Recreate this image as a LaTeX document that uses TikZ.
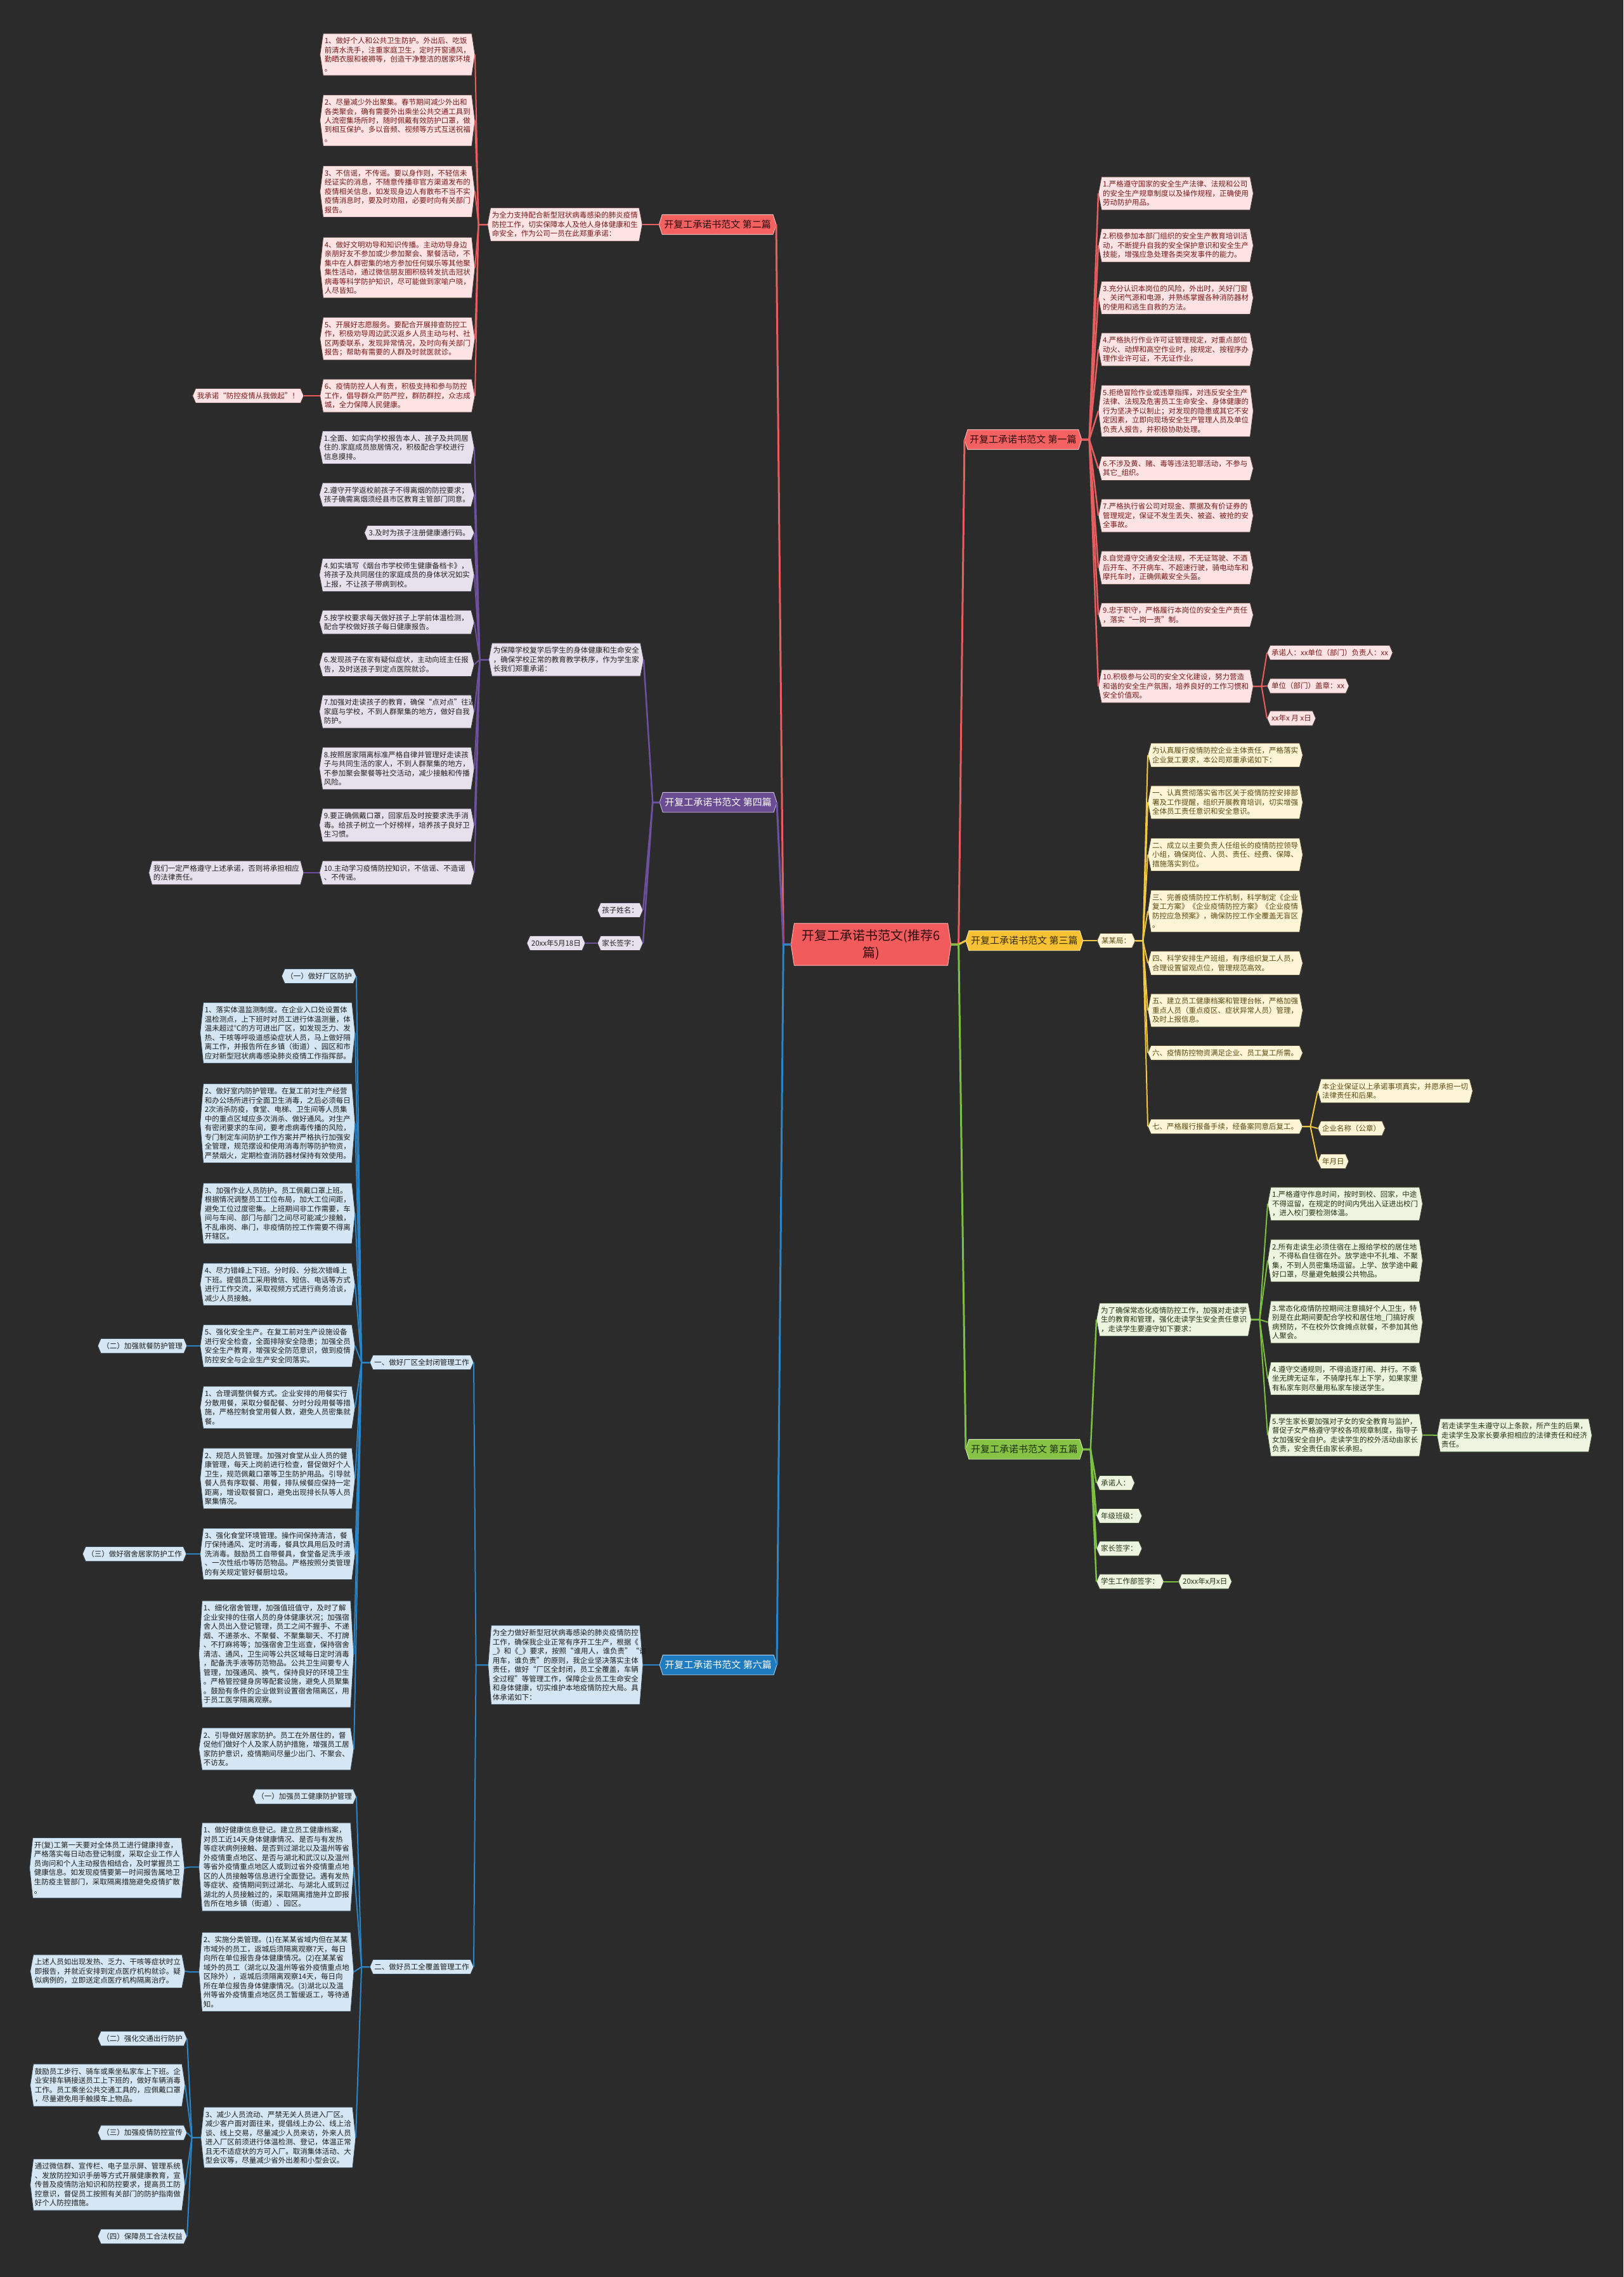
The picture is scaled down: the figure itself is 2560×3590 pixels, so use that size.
\documentclass[tikz,border=0pt]{standalone}
\usepackage{fontspec}
\setmainfont{Noto Sans CJK SC}
\usetikzlibrary{calc}
\pgfdeclarelayer{bg}
\pgfsetlayers{bg,main}
\definecolor{bgc}{HTML}{2B2B2B}
% leaf families
\definecolor{lrfill}{HTML}{FDE3E3}\definecolor{lrtxt}{HTML}{7A1A1A}\definecolor{lrbd}{HTML}{4A3A3A}
\definecolor{lpfill}{HTML}{E6E1EC}\definecolor{lptxt}{HTML}{222222}\definecolor{lpbd}{HTML}{3E3A44}
\definecolor{lbfill}{HTML}{D5E7F4}\definecolor{lbtxt}{HTML}{1E1E1E}\definecolor{lbbd}{HTML}{34404A}
\definecolor{lyfill}{HTML}{FEF5D6}\definecolor{lytxt}{HTML}{5B4A12}\definecolor{lybd}{HTML}{4A4430}
\definecolor{lgfill}{HTML}{EDF5E1}\definecolor{lgtxt}{HTML}{243312}\definecolor{lgbd}{HTML}{3C4632}
% branch families
\definecolor{brfill}{HTML}{F36161}\definecolor{brtxt}{HTML}{2A0A0A}\definecolor{brbd}{HTML}{FFC0C0}
\definecolor{bpfill}{HTML}{6A4C93}\definecolor{bptxt}{HTML}{FFFFFF}\definecolor{bpbd}{HTML}{CDBDE2}
\definecolor{bbfill}{HTML}{1F7BC0}\definecolor{bbtxt}{HTML}{FFFFFF}\definecolor{bbbd}{HTML}{A8D0F0}
\definecolor{byfill}{HTML}{F6C234}\definecolor{bytxt}{HTML}{3A2A00}\definecolor{bybd}{HTML}{FFE9A8}
\definecolor{bgnfill}{HTML}{86C344}\definecolor{bgntxt}{HTML}{1E2E0A}\definecolor{bgnbd}{HTML}{D5F0B5}
\definecolor{ctrfill}{HTML}{F25B5B}\definecolor{ctrtxt}{HTML}{2A0A0A}\definecolor{ctrbd}{HTML}{FFB3B3}
% lines
\definecolor{rline}{HTML}{E85D5D}
\definecolor{pline}{HTML}{6E50A0}
\definecolor{bline}{HTML}{2A84C6}
\definecolor{yline}{HTML}{F2C843}
\definecolor{gline}{HTML}{7CC043}
\tikzset{
 nbase/.style={font=\fontsize{11.5}{14.5}\selectfont, inner xsep=7pt, inner ysep=6pt, align=left},
 lw/.style={nbase, text width=230pt},
 sm/.style={nbase},
 brn/.style={font=\fontsize{15}{18}\selectfont, inner xsep=8pt, inner ysep=8.5pt, align=center},
 cn/.style={font=\fontsize{20}{27}\selectfont, inner xsep=17pt, inner ysep=9pt, align=center},
}
\newcommand\hxn[6][lw]{%
  \node[#1, text=#3txt, anchor=#5] (#2) at (#4) {#6};
  \begin{pgfonlayer}{bg}
    \path[fill=#3fill, draw=#3bd, line width=0.9pt]
      ($(#2.north west)+(5,0)$) -- ($(#2.north east)+(-5,0)$) -- (#2.east) --
      ($(#2.south east)+(-5,0)$) -- ($(#2.south west)+(5,0)$) -- (#2.west) -- cycle;
  \end{pgfonlayer}}
\newcommand\fanL[5][2pt]{\foreach \c in {#4}{\draw[draw=#3, line width=#1] (#2.west) -- ++(-#5,0) -- (\c.east);}}
\newcommand\fanR[5][2pt]{\foreach \c in {#4}{\draw[draw=#3, line width=#1] (#2.east) -- ++(#5,0) -- (\c.west);}}
\begin{document}
\begin{tikzpicture}[x=1pt,y=-1pt]
\begin{pgfonlayer}{bg}
\fill[bgc] (0,0) rectangle (2560,3590);
\end{pgfonlayer}
\useasboundingbox (0,0) rectangle (2560,3590);

% ---------- center ----------
\hxn[cn]{C}{ctr}{1373.5,1489}{center}{开复工承诺书范文(推荐6\\篇)}

% ---------- 第二篇 ----------
\hxn[brn]{B2}{br}{1224,354}{east}{开复工承诺书范文 第二篇}
\hxn{M2}{lr}{1013,354}{east}{为全力支持配合新型冠状病毒感染的肺炎疫情\\防控工作，切实保障本人及他人身体健康和生\\命安全，作为公司一员在此郑重承诺：}
\hxn{L21}{lr}{749,86}{east}{1、做好个人和公共卫生防护。外出后、吃饭\\前清水洗手，注重家庭卫生，定时开窗通风，\\勤晒衣服和被褥等，创造干净整洁的居家环境\\。}
\hxn{L22}{lr}{749,190}{east}{2、尽量减少外出聚集。春节期间减少外出和\\各类聚会，确有需要外出乘坐公共交通工具到\\人流密集场所时，随时佩戴有效防护口罩，做\\到相互保护。多以音频、视频等方式互送祝福\\。}
\hxn{L23}{lr}{749,302}{east}{3、不信谣，不传谣。要以身作则，不轻信未\\经证实的消息，不随意传播非官方渠道发布的\\疫情相关信息，如发现身边人有散布不当不实\\疫情消息时，要及时劝阻，必要时向有关部门\\报告。}
\hxn{L24}{lr}{749,422}{east}{4、做好文明劝导和知识传播。主动劝导身边\\亲朋好友不参加或少参加聚会、聚餐活动，不\\集中在人群密集的地方参加任何娱乐等其他聚\\集性活动，通过微信朋友圈积极转发抗击冠状\\病毒等科学防护知识，尽可能做到家喻户晓，\\人尽皆知。}
\hxn{L25}{lr}{749,534}{east}{5、开展好志愿服务。要配合开展排查防控工\\作，积极劝导周边武汉返乡人员主动与村、社\\区两委联系，发现异常情况，及时向有关部门\\报告；帮助有需要的人群及时就医就诊。}
\hxn{L26}{lr}{749,624}{east}{6、疫情防控人人有责，积极支持和参与防控\\工作，倡导群众严防严控，群防群控，众志成\\城，全力保障人民健康。}
\hxn[sm]{W2}{lr}{479,624}{east}{我承诺“防控疫情从我做起”！}

% ---------- 第四篇 ----------
\hxn[brn]{B4}{bp}{1225,1265}{east}{开复工承诺书范文 第四篇}
\hxn{M4}{lp}{1015,1040}{east}{为保障学校复学后学生的身体健康和生命安全\\，确保学校正常的教育教学秩序，作为学生家\\长我们郑重承诺：}
\hxn{L41}{lp}{748,705.5}{east}{1.全面、如实向学校报告本人、孩子及共同居\\住的.家庭成员旅居情况，积极配合学校进行\\信息摸排。}
\hxn{L42}{lp}{748,780}{east}{2.遵守开学返校前孩子不得离烟的防控要求；\\孩子确需离烟须经县市区教育主管部门同意。}
\hxn[sm]{L43}{lp}{748,840}{east}{3.及时为孩子注册健康通行码。}
\hxn{L44}{lp}{748,906.5}{east}{4.如实填写《烟台市学校师生健康备档卡》，\\将孩子及共同居住的家庭成员的身体状况如实\\上报，不让孩子带病到校。}
\hxn{L45}{lp}{748,981}{east}{5.按学校要求每天做好孩子上学前体温检测，\\配合学校做好孩子每日健康报告。}
\hxn{L46}{lp}{748,1047.5}{east}{6.发现孩子在家有疑似症状，主动向班主任报\\告，及时送孩子到定点医院就诊。}
\hxn{L47}{lp}{748,1122}{east}{7.加强对走读孩子的教育，确保“点对点”往返\\家庭与学校，不到人群聚集的地方，做好自我\\防护。}
\hxn{L48}{lp}{748,1211.5}{east}{8.按照居家隔离标准严格自律并管理好走读孩\\子与共同生活的家人，不到人群聚集的地方，\\不参加聚会聚餐等社交活动，减少接触和传播\\风险。}
\hxn{L49}{lp}{748,1301}{east}{9.要正确佩戴口罩，回家后及时按要求洗手消\\毒。给孩子树立一个好榜样，培养孩子良好卫\\生习惯。}
\hxn{L410}{lp}{748,1376}{east}{10.主动学习疫情防控知识，不信谣、不造谣\\、不传谣。}
\hxn{W4}{lp}{479,1376}{east}{我们一定严格遵守上述承诺，否则将承担相应\\的法律责任。}
\hxn[sm]{K4}{lp}{1014,1435}{east}{孩子姓名：}
\hxn[sm]{S4}{lp}{1014,1487}{east}{家长签字：}
\hxn[sm]{D4}{lp}{923,1487}{east}{20xx年5月18日}

% ---------- 第六篇 ----------
\hxn[brn]{B6}{bb}{1225,2625}{east}{开复工承诺书范文 第六篇}
\hxn{M6}{lb}{1014,2625}{east}{为全力做好新型冠状病毒感染的肺炎疫情防控\\工作，确保我企业正常有序开工生产，根据《\\\_》和《\_》要求，按照“谁用人，谁负责”“谁\\用车，谁负责”的原则，我企业坚决落实主体\\责任，做好“厂区全封闭，员工全覆盖，车辆\\全过程”等管理工作，保障企业员工生命安全\\和身体健康，切实维护本地疫情防控大局。具\\体承诺如下：}
\hxn[sm]{G1}{lb}{747,2148}{east}{一、做好厂区全封闭管理工作}
\hxn[sm]{G2}{lb}{747,3101}{east}{二、做好员工全覆盖管理工作}
\hxn[sm]{S61}{lb}{562,1539}{east}{（一）做好厂区防护}
\hxn{L6a1}{lb}{560,1628.5}{east}{1、落实体温监测制度。在企业入口处设置体\\温检测点，上下班时对员工进行体温测量，体\\温未超过℃的方可进出厂区，如发现乏力、发\\热、干咳等呼吸道感染症状人员，马上做好隔\\离工作，并报告所在乡镇（街道）、园区和市\\应对新型冠状病毒感染肺炎疫情工作指挥部。}
\hxn{L6a2}{lb}{560,1771}{east}{2、做好室内防护管理。在复工前对生产经营\\和办公场所进行全面卫生消毒，之后必须每日\\2次消杀防疫，食堂、电梯、卫生间等人员集\\中的重点区域应多次消杀、做好通风。对生产\\有密闭要求的车间，要考虑病毒传播的风险，\\专门制定车间防护工作方案并严格执行加强安\\全管理，规范摆设和使用消毒剂等防护物资，\\严禁烟火，定期检查消防器材保持有效使用。}
\hxn{L6a3}{lb}{560,1913}{east}{3、加强作业人员防护。员工佩戴口罩上班。\\根据情况调整员工工位布局，加大工位间距，\\避免工位过度密集。上班期间非工作需要，车\\间与车间、部门与部门之间尽可能减少接触，\\不乱串岗、串门，非疫情防控工作需要不得离\\开辖区。}
\hxn{L6a4}{lb}{560,2025}{east}{4、尽力错峰上下班。分时段、分批次错峰上\\下班。提倡员工采用微信、短信、电话等方式\\进行工作交流，采取视频方式进行商务洽谈，\\减少人员接触。}
\hxn{L6a5}{lb}{560,2122}{east}{5、强化安全生产。在复工前对生产设施设备\\进行安全检查，全面排除安全隐患；加强全员\\安全生产教育，增强安全防范意识，做到疫情\\防控安全与企业生产安全同落实。}
\hxn[sm]{S62}{lb}{295,2122}{east}{（二）加强就餐防护管理}
\hxn{L6b1}{lb}{560,2219}{east}{1、合理调整供餐方式。企业安排的用餐实行\\分散用餐，采取分餐配餐、分时分段用餐等措\\施，严格控制食堂用餐人数，避免人员密集就\\餐。}
\hxn{L6b2}{lb}{560,2331}{east}{2、规范人员管理。加强对食堂从业人员的健\\康管理，每天上岗前进行检查，督促做好个人\\卫生，规范佩戴口罩等卫生防护用品。引导就\\餐人员有序取餐、用餐，排队候餐应保持一定\\距离，增设取餐窗口，避免出现排长队等人员\\聚集情况。}
\hxn{L6b3}{lb}{560,2450}{east}{3、强化食堂环境管理。操作间保持清洁，餐\\厅保持通风、定时消毒，餐具饮具用后及时清\\洗消毒。鼓励员工自带餐具，食堂备足洗手液\\、一次性纸巾等防范物品。严格按照分类管理\\的有关规定管好餐厨垃圾。}
\hxn[sm]{S63}{lb}{294,2450}{east}{（三）做好宿舍居家防护工作}
\hxn{L6c1}{lb}{558,2608}{east}{1、细化宿舍管理，加强值班值守，及时了解\\企业安排的住宿人员的身体健康状况；加强宿\\舍人员出入登记管理，员工之间不握手、不递\\烟、不递茶水、不聚餐、不聚集聊天、不打牌\\、不打麻将等；加强宿舍卫生巡查，保持宿舍\\清洁、通风，卫生间等公共区域每日定时消毒\\，配备洗手液等防范物品。公共卫生间要专人\\管理，加强通风、换气，保持良好的环境卫生\\。严格管控健身房等配套设施，避免人员聚集\\。鼓励有条件的企业做到设置宿舍隔离区，用\\于员工医学隔离观察。}
\hxn{L6c2}{lb}{558,2757.5}{east}{2、引导做好居家防护。员工在外居住的，督\\促他们做好个人及家人防护措施，增强员工居\\家防护意识，疫情期间尽量少出门、不聚会、\\不访友。}
\hxn[sm]{S64}{lb}{562,2832.5}{east}{（一）加强员工健康防护管理}
\hxn{L6d1}{lb}{558,2943.5}{east}{1、做好健康信息登记。建立员工健康档案，\\对员工近14天身体健康情况、是否与有发热\\等症状病例接触、是否到过湖北以及温州等省\\外疫情重点地区、是否与湖北和武汉以及温州\\等省外疫情重点地区人或到过省外疫情重点地\\区的人员接触等信息进行全面登记。遇有发热\\等症状、疫情期间到过湖北、与湖北人或到过\\湖北的人员接触过的，采取隔离措施并立即报\\告所在地乡镇（街道）、园区。}
\hxn{F1}{lb}{291,2945}{east}{开(复)工第一天要对全体员工进行健康排查，\\严格落实每日动态登记制度，采取企业工作人\\员询问和个人主动报告相结合，及时掌握员工\\健康信息。如发现疫情要第一时间报告属地卫\\生防疫主管部门，采取隔离措施避免疫情扩散\\。}
\hxn{L6d2}{lb}{558,3109}{east}{2、实施分类管理。(1)在某某省域内但在某某\\市域外的员工，返城后须隔离观察7天，每日\\向所在单位报告身体健康情况。(2)在某某省\\域外的员工（湖北以及温州等省外疫情重点地\\区除外），返城后须隔离观察14天，每日向\\所在单位报告身体健康情况。(3)湖北以及温\\州等省外疫情重点地区员工暂缓返工，等待通\\知。}
\hxn{F2}{lb}{292,3108}{east}{上述人员如出现发热、乏力、干咳等症状时立\\即报告，并就近安排到定点医疗机构就诊。疑\\似病例的，立即送定点医疗机构隔离治疗。}
\hxn{L6d3}{lb}{561,3370}{east}{3、减少人员流动、严禁无关人员进入厂区。\\减少客户面对面往来，提倡线上办公、线上洽\\谈、线上交易，尽量减少人员来访，外来人员\\进入厂区前须进行体温检测、登记，体温正常\\且无不适症状的方可入厂。取消集体活动、大\\型会议等，尽量减少省外出差和小型会议。}
\hxn[sm]{S65}{lb}{295,3214}{east}{（二）强化交通出行防护}
\hxn{T1}{lb}{292,3287.5}{east}{鼓励员工步行、骑车或乘坐私家车上下班。企\\业安排车辆接送员工上下班的，做好车辆消毒\\工作。员工乘坐公共交通工具的，应佩戴口罩\\，尽量避免用手触摸车上物品。}
\hxn[sm]{S66}{lb}{295,3362.5}{east}{（三）加强疫情防控宣传}
\hxn{T2}{lb}{292,3444.5}{east}{通过微信群、宣传栏、电子显示屏、管理系统\\、发放防控知识手册等方式开展健康教育，宣\\传普及疫情防治知识和防控要求，提高员工防\\控意识，督促员工按照有关部门的防护指南做\\好个人防控措施。}
\hxn[sm]{S67}{lb}{295,3526}{east}{（四）保障员工合法权益}

% ---------- 第一篇 ----------
\hxn[brn]{B1}{br}{1521,693}{west}{开复工承诺书范文 第一篇}
\hxn{L11}{lr}{1732,305}{west}{1.严格遵守国家的安全生产法律、法规和公司\\的安全生产规章制度以及操作规程，正确使用\\劳动防护用品。}
\hxn{L12}{lr}{1732,387}{west}{2.积极参加本部门组织的安全生产教育培训活\\动，不断提升自我的安全保护意识和安全生产\\技能，增强应急处理各类突发事件的能力。}
\hxn{L13}{lr}{1732,469.5}{west}{3.充分认识本岗位的风险，外出时，关好门窗\\、关闭气源和电源，并熟练掌握各种消防器材\\的使用和逃生自救的方法。}
\hxn{L14}{lr}{1732,551}{west}{4.严格执行作业许可证管理规定，对重点部位\\动火、动焊和高空作业时，按规定、按程序办\\理作业许可证，不无证作业。}
\hxn{L15}{lr}{1732,648}{west}{5.拒绝冒险作业或违章指挥，对违反安全生产\\法律、法规及危害员工生命安全、身体健康的\\行为坚决予以制止；对发现的隐患或其它不安\\定因素，立即向现场安全生产管理人员及单位\\负责人报告，并积极协助处理。}
\hxn{L16}{lr}{1732,738.5}{west}{6.不涉及黄、赌、毒等违法犯罪活动，不参与\\其它\_组织。}
\hxn{L17}{lr}{1732,813}{west}{7.严格执行省公司对现金、票据及有价证券的\\管理规定，保证不发生丢失、被盗、被抢的安\\全事故。}
\hxn{L18}{lr}{1732,895}{west}{8.自觉遵守交通安全法规，不无证驾驶、不酒\\后开车、不开病车、不超速行驶，骑电动车和\\摩托车时，正确佩戴安全头盔。}
\hxn{L19}{lr}{1732,969.5}{west}{9.忠于职守，严格履行本岗位的安全生产责任\\，落实“一岗一责”制。}
\hxn{L110}{lr}{1732,1082}{west}{10.积极参与公司的安全文化建设，努力营造\\和谐的安全生产氛围，培养良好的工作习惯和\\安全价值观。}
\hxn[sm]{Q1}{lr}{1998,1029}{west}{承诺人：xx单位（部门）负责人：xx}
\hxn[sm]{Q2}{lr}{1998,1081.5}{west}{单位（部门）盖章：xx}
\hxn[sm]{Q3}{lr}{1998,1132.5}{west}{xx年x 月 x日}

% ---------- 第三篇 ----------
\hxn[brn]{B3}{by}{1523,1483}{west}{开复工承诺书范文 第三篇}
\hxn[sm]{J3}{ly}{1730,1483}{west}{某某局：}
\hxn{L30}{ly}{1810,1190.5}{west}{为认真履行疫情防控企业主体责任，严格落实\\企业复工要求，本公司郑重承诺如下：}
\hxn{L31}{ly}{1810,1265}{west}{一、认真贯彻落实省市区关于疫情防控安排部\\署及工作提醒，组织开展教育培训，切实增强\\全体员工责任意识和安全意识。}
\hxn{L32}{ly}{1810,1347.5}{west}{二、成立以主要负责人任组长的疫情防控领导\\小组，确保岗位、人员、责任、经费、保障、\\措施落实到位。}
\hxn{L33}{ly}{1810,1436.5}{west}{三、完善疫情防控工作机制，科学制定《企业\\复工方案》《企业疫情防控方案》《企业疫情\\防控应急预案》，确保防控工作全覆盖无盲区\\。}
\hxn{L34}{ly}{1810,1518.5}{west}{四、科学安排生产班组，有序组织复工人员，\\合理设置留观点位，管理规范高效。}
\hxn{L35}{ly}{1810,1593}{west}{五、建立员工健康档案和管理台帐，严格加强\\重点人员（重点疫区、症状异常人员）管理，\\及时上报信息。}
\hxn{L36}{ly}{1810,1660}{west}{六、疫情防控物资满足企业、员工复工所需。}
\hxn{L37}{ly}{1810,1776}{west}{七、严格履行报备手续，经备案同意后复工。}
\hxn{R1}{ly}{2078,1720}{west}{本企业保证以上承诺事项真实，并愿承担一切\\法律责任和后果。}
\hxn[sm]{R2}{ly}{2078,1779}{west}{企业名称（公章）}
\hxn[sm]{R3}{ly}{2078,1831}{west}{年月日}

% ---------- 第五篇 ----------
\hxn[brn]{B5}{bgn}{1523,2285}{west}{开复工承诺书范文 第五篇}
\hxn{M5}{lg}{1729,2080.5}{west}{为了确保常态化疫情防控工作，加强对走读学\\生的教育和管理，强化走读学生安全责任意识\\，走读学生要遵守如下要求：}
\hxn{L51}{lg}{1999,1898}{west}{1.严格遵守作息时间，按时到校、回家，中途\\不得逗留，在规定的时间内凭出入证进出校门\\，进入校门要检测体温。}
\hxn{L52}{lg}{1999,1987.5}{west}{2.所有走读生必须住宿在上报给学校的居住地\\，不得私自住宿在外。放学途中不扎堆、不聚\\集，不到人员密集场逗留。上学、放学途中戴\\好口罩，尽量避免触摸公共物品。}
\hxn{L53}{lg}{1999,2084.5}{west}{3.常态化疫情防控期间注意搞好个人卫生，特\\别是在此期间要配合学校和居住地\_门搞好疾\\病预防，不在校外饮食摊点就餐，不参加其他\\人聚会。}
\hxn{L54}{lg}{1999,2173.5}{west}{4.遵守交通规则，不得追逐打闹、并行。不乘\\坐无牌无证车，不骑摩托车上下学，如果家里\\有私家车则尽量用私家车接送学生。}
\hxn{L55}{lg}{1999,2262.5}{west}{5.学生家长要加强对子女的安全教育与监护，\\督促子女严格遵守学校各项规章制度，指导子\\女加强安全自护。走读学生的校外活动由家长\\负责，安全责任由家长承担。}
\hxn{X5}{lg}{2266,2263}{west}{若走读学生未遵守以上条款，所产生的后果，\\走读学生及家长要承担相应的法律责任和经济\\责任。}
\hxn[sm]{P1}{lg}{1729,2338}{west}{承诺人：}
\hxn[sm]{P2}{lg}{1729,2390}{west}{年级班级：}
\hxn[sm]{P3}{lg}{1729,2441.5}{west}{家长签字：}
\hxn[sm]{P4}{lg}{1729,2493.5}{west}{学生工作部签字：}
\hxn[sm]{Y5}{lg}{1858,2493.5}{west}{20xx年x月x日}

% ---------- connectors ----------
\fanL[3pt]{C}{rline}{B2}{12}
\fanL[3pt]{C}{pline}{B4}{12}
\fanL[3pt]{C}{bline}{B6}{12}
\fanR[3pt]{C}{rline}{B1}{12}
\fanR[3pt]{C}{yline}{B3}{12}
\fanR[3pt]{C}{gline}{B5}{12}

\fanL[2.5pt]{B2}{rline}{M2}{10}
\fanL{M2}{rline}{L21,L22,L23,L24,L25,L26}{14}
\fanL{L26}{rline}{W2}{12}

\fanL[2.5pt]{B4}{pline}{M4,K4,S4}{11}
\fanL{M4}{pline}{L41,L42,L43,L44,L45,L46,L47,L48,L49,L410}{14}
\fanL{L410}{pline}{W4}{12}
\fanL{S4}{pline}{D4}{12}

\fanL[2.5pt]{B6}{bline}{M6}{10}
\fanL{M6}{bline}{G1,G2}{19}
\fanL{G1}{bline}{S61,L6a1,L6a2,L6a3,L6a4,L6a5,L6b1,L6b2,L6b3,L6c1,L6c2}{13}
\fanL{L6a5}{bline}{S62}{12}
\fanL{L6b3}{bline}{S63}{12}
\fanL{G2}{bline}{S64,L6d1,L6d2,L6d3}{13}
\fanL{L6d1}{bline}{F1}{14}
\fanL{L6d2}{bline}{F2}{14}
\fanL{L6d3}{bline}{S65,T1,S66,T2,S67}{14}

\fanR[2.5pt]{B1}{rline}{L11,L12,L13,L14,L15,L16,L17,L18,L19,L110}{12}
\fanR{L110}{rline}{Q1,Q2,Q3}{13}
\fanR[2.5pt]{B3}{yline}{J3}{12}
\fanR{J3}{yline}{L30,L31,L32,L33,L34,L35,L36,L37}{12}
\fanR{L37}{yline}{R1,R2,R3}{12}
\fanR[2.5pt]{B5}{gline}{M5,P1,P2,P3,P4}{12}
\fanR{M5}{gline}{L51,L52,L53,L54,L55}{13}
\fanR{L55}{gline}{X5}{13}
\fanR{P4}{gline}{Y5}{14}
\end{tikzpicture}
\end{document}
